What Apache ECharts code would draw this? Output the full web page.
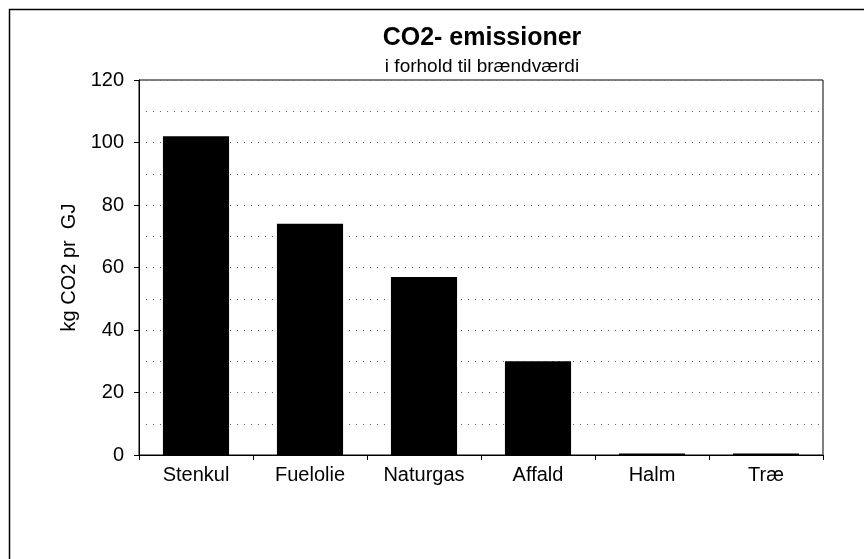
<!DOCTYPE html>
<html>
<head>
<meta charset="utf-8">
<script src="https://cdn.jsdelivr.net/npm/echarts@6/dist/echarts.min.js"></script>
<style>
html,body{margin:0;padding:0;background:#fff;}
#chart{width:864px;height:559px;}
</style>
</head>
<body>
<div id="chart"></div>
<script>
var categories = ['Stenkul', 'Fuelolie', 'Naturgas', 'Affald', 'Halm', 'Træ'];
var values = [102, 74, 57, 30, 0.5, 0.5];
var titleText = 'CO2- emissioner';
var subtitleText = 'i forhold til brændværdi';
var yAxisName = 'kg CO2 pr  GJ';

var chart = echarts.init(document.getElementById('chart'), null, {renderer: 'canvas'});
var font = 'Arial, "Liberation Sans", sans-serif';
chart.setOption({
  animation: false,
  backgroundColor: '#fff',
  graphic: [{
    type: 'rect',
    shape: {x: 9.5, y: 9.5, width: 900, height: 600},
    style: {fill: 'none', stroke: '#000', lineWidth: 1.5},
    silent: true
  }],
  title: {
    text: titleText,
    subtext: subtitleText,
    left: 477,
    textAlign: 'center',
    top: 21,
    itemGap: 6,
    textStyle: {fontFamily: font, fontSize: 25, fontWeight: 'bold', color: '#000'},
    subtextStyle: {fontFamily: font, fontSize: 19, color: '#000'}
  },
  grid: {
    left: 139, right: 41, top: 80, bottom: 104,
    show: true, borderColor: '#000', borderWidth: 1, backgroundColor: 'transparent'
  },
  xAxis: {
    type: 'category',
    data: categories,
    axisLine: {lineStyle: {color: '#000', width: 1}},
    axisTick: {show: true, length: 5, lineStyle: {color: '#000'}},
    axisLabel: {fontFamily: font, fontSize: 20, color: '#000', margin: 10}
  },
  yAxis: {
    type: 'value',
    min: 0, max: 120, interval: 20,
    name: yAxisName,
    nameLocation: 'middle',
    nameGap: 60,
    nameTextStyle: {fontFamily: font, fontSize: 20, color: '#000'},
    axisLine: {show: true, lineStyle: {color: '#000'}},
    axisTick: {show: true, length: 5, lineStyle: {color: '#000'}},
    axisLabel: {fontFamily: font, fontSize: 20, color: '#000', margin: 15},
    splitLine: {show: true, lineStyle: {color: '#666', type: [1, 6], width: 1}},
    minorTick: {show: false, splitNumber: 2},
    minorSplitLine: {show: true, lineStyle: {color: '#666', type: [1, 6], width: 1}}
  },
  series: [{
    type: 'bar',
    data: values,
    barWidth: '58%',
    itemStyle: {color: '#000'}
  }]
});
</script>
</body>
</html>
